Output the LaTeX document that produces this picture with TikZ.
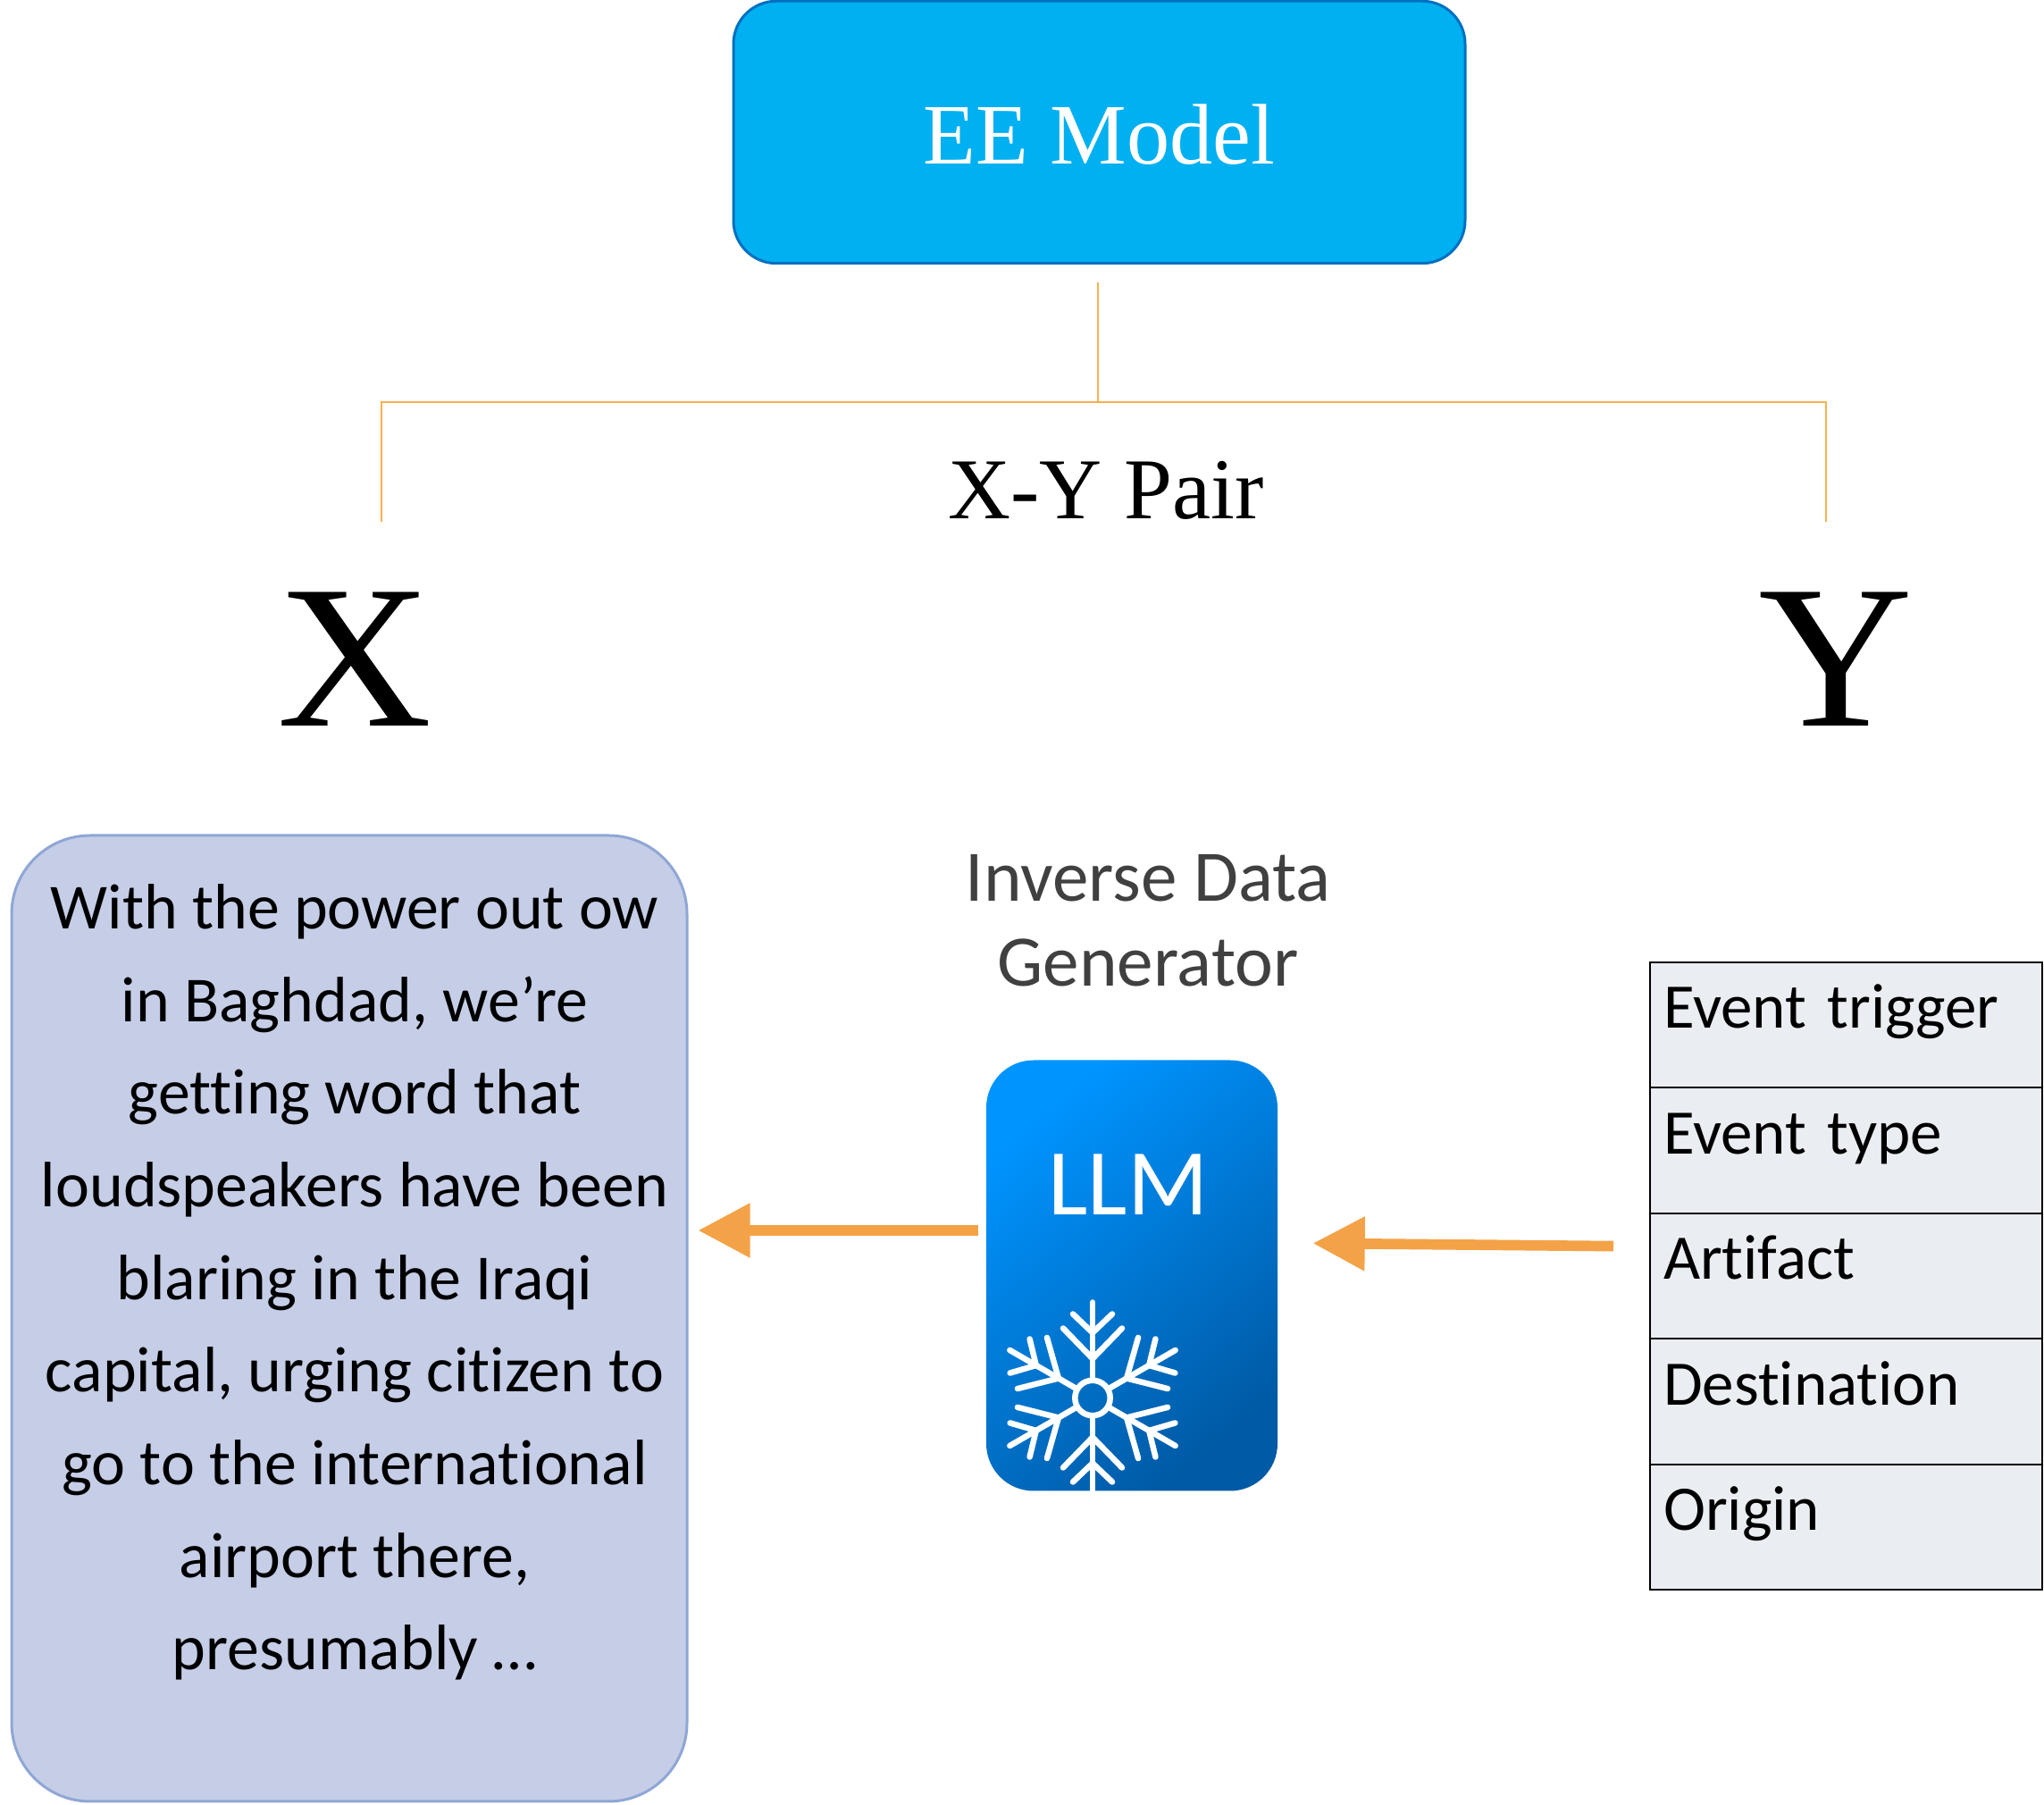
\documentclass[tikz,border=0pt]{standalone}
\usepackage{fontspec}
\setmainfont[Ligatures=NoCommon]{Carlito}
\newfontfamily\timesfont{Liberation Serif}
\usetikzlibrary{arrows.meta,positioning}
\definecolor{modelfill}{HTML}{00B0F0}
\definecolor{modeledge}{HTML}{0070C0}
\definecolor{pairline}{HTML}{FFB04D}
\definecolor{flowcolor}{HTML}{F4A247}
\definecolor{inputfill}{HTML}{C5CEE6}
\definecolor{inputedge}{HTML}{8FA6D6}
\definecolor{rowfill}{HTML}{EAEDF1}
\definecolor{llmtop}{HTML}{0094FF}
\definecolor{llmmid}{HTML}{0082EC}
\definecolor{llmbottom}{HTML}{005AA5}
\tikzset{
  pairedge/.style={draw=pairline, line width=.02cm},
  flowarrow/.style={draw=flowcolor, line width=.117cm, -{Triangle[length=.58cm,width=.58cm]}},
  rowbox/.style={draw=black, fill=rowfill, line width=.02cm, outer sep=0pt, inner ysep=0pt, inner xsep=.15cm,
    text width=4.09cm, align=left, text height=.74cm, text depth=.665cm, font=\fontsize{20.2}{24}\selectfont},
  flake/.style={draw=white, line width=.065cm, line cap=round}
}
\begin{document}
\begin{tikzpicture}
  \useasboundingbox (0,0) rectangle (22.88,20.20);
  % model box and the pair lines
  \node[draw=modeledge, fill=modelfill, line width=.03cm, rounded corners=.48cm, inner sep=0pt, minimum width=8.19cm, minimum height=2.935cm,
    text=white, font=\timesfont\fontsize{27.4}{32}\selectfont] (eemodel) at (12.305,18.72) {\raisebox{-.03cm}[.68em][0pt]{EE Model}};
  \coordinate (fork) at (12.285,15.70);
  \coordinate (xcorner) at (4.27,15.70);
  \coordinate (ycorner) at (20.44,15.70);
  \coordinate (xend) at (4.27,14.36);
  \coordinate (yend) at (20.44,14.36);
  \draw[pairedge, shorten <=.2cm] (eemodel.south -| fork) -- (fork);
  \draw[pairedge] (xend) -- (xcorner) -- (ycorner) -- (yend);
  \node[anchor=base, font=\timesfont\fontsize{27.6}{32}\selectfont] (pairlabel) at (12.38,14.39) {X-Y Pair};
  \node[anchor=base, font=\timesfont\fontsize{65}{70}\selectfont] (xlabel) at (3.97,12.07) {\scalebox{1.05}[1]{X}};
  \node[anchor=base, font=\timesfont\fontsize{65}{70}\selectfont] (ylabel) at (20.555,12.07) {\scalebox{1.05}[1]{Y}};
  % input text
  \node[draw=inputedge, fill=inputfill, line width=.03cm, rounded corners=.88cm, minimum width=7.56cm, minimum height=10.81cm] (textbox) at (3.91,5.445) {};
  \node[align=center, font=\fontsize{20.45}{29.5}\selectfont] (excerpt) at (3.97,5.85) {With the power out ow\\in Baghdad, we’re\\getting word that\\loudspeakers have been\\blaring in the Iraqi\\capital, urging citizen to\\go to the international\\airport there,\\presumably …};
  % generator
  \node[align=center, text=black!75, font=\fontsize{23.1}{27}\selectfont] (gentitle) at (12.85,9.90) {Inverse Data\\Generator};
  \node[top color=llmtop, middle color=llmmid, bottom color=llmbottom, shading angle=40, rounded corners=.53cm, inner sep=0pt, minimum width=3.26cm, minimum height=4.82cm] (llmbox) at (12.67,5.925) {};
  \node[anchor=base, text=white, font=\fontsize{30}{32}\selectfont] (llmlabel) at (12.63,6.60) {LLM};
  \begin{scope}
    \clip[rounded corners=.53cm] (llmbox.south west) rectangle (llmbox.north east);
    \draw[draw=white, line width=.065cm] (12.23,4.555) circle (.197);
    \foreach \ang in {30,90,150,210,270,330} {
      \begin{scope}[shift={(12.23,4.555)}, rotate=\ang]
        \draw[flake] (.22,0) -- (1.07,0);
        \draw[flake] (.78,.33) -- (.44,0) -- (.78,-.33);
        \draw[flake] (.94,.22) -- (.73,0) -- (.94,-.22);
      \end{scope}
    }
  \end{scope}
  % output slots
  \node[rowbox] (rowA) at (20.665,8.73) {Event trigger};
  \node[rowbox, below=0pt of rowA] (rowB) {Event type};
  \node[rowbox, below=0pt of rowB] (rowC) {Artifact};
  \node[rowbox, below=0pt of rowC] (rowD) {Destination};
  \node[rowbox, below=0pt of rowD] (rowE) {Origin};
  % arrows
  \coordinate (outstart) at ([yshift=.505cm]llmbox.west);
  \draw[flowarrow, shorten <=.08cm, shorten >=.11cm] (outstart) -- (outstart -| textbox.east);
  \draw[flowarrow, shorten <=.41cm, shorten >=.39cm] ([yshift=.33cm]rowC.west) -- ([yshift=.365cm]llmbox.east);
\end{tikzpicture}
\end{document}
